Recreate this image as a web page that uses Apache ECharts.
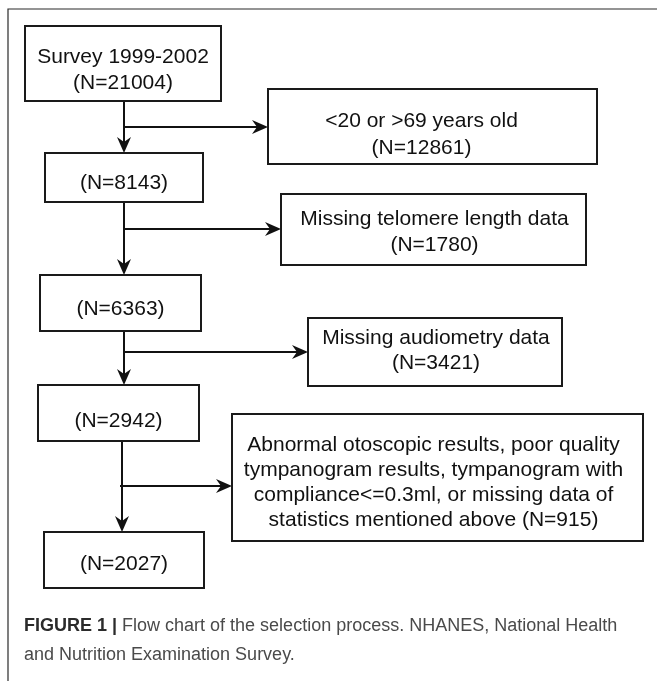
<!DOCTYPE html>
<html>
<head>
<meta charset="utf-8">
<script src="https://cdn.jsdelivr.net/npm/echarts@6/dist/echarts.min.js"></script>
<style>
  html, body { margin: 0; padding: 0; background: #fff; }
  #chart { width: 657px; height: 681px; }
</style>
</head>
<body>
<div id="chart"></div>
<script>
// flow chart contents
const mainTitles = ['Survey 1999-2002', '', '', '', '']
const mainCounts = [21004, 8143, 6363, 2942, 2027]
const exclusionReasons = [
  '<20 or >69 years old',
  'Missing telomere length data',
  'Missing audiometry data',
  'Abnormal otoscopic results, poor quality\ntympanogram results, tympanogram with\ncompliance<=0.3ml, or missing data of\nstatistics mentioned above'
]
const exclusionCounts = [12861, 1780, 3421, 915]
const captionBold = 'FIGURE 1 |'
const captionLines = [' Flow chart of the selection process. NHANES, National Health', 'and Nutrition Examination Survey.']

// layout (pixel units of the page, y going down)
const mainBoxes = [[25, 26, 221, 101], [45, 153, 203, 202], [40, 275, 201, 331], [38, 385, 199, 441], [44, 532, 204, 588]]
const mainTextShift = [[0, 6.5], [0, 5.5], [0, 6], [0, 8], [0, 4.5]]
const exclBoxes = [[268, 89, 597, 164], [281, 194, 586, 265], [308, 318, 562, 386], [232, 414, 643, 541]]
const exclTextShift = [[-11, 8], [1, 2.5], [1, -1], [-4, 5]]
const exclLineHeight = [27, 26, 25, 25]
const trunkX = [124, 124, 124, 122]
const branchY = [127, 229, 352, 486]
const branchStartX = [124, 124, 123, 120]

const W = 657
const H = 681
const font = '"Liberation Sans", Arial, sans-serif'

const nLabel = n => '(N=' + n + ')'

let boxData = []
mainBoxes.forEach((b, i) => {
  let txt = mainTitles[i] ? mainTitles[i] + '\n' + nLabel(mainCounts[i]) : nLabel(mainCounts[i])
  boxData.push({ value: b, text: txt, dx: mainTextShift[i][0], dy: mainTextShift[i][1], lh: 26 })
})
exclBoxes.forEach((b, i) => {
  let reason = exclusionReasons[i]
  // multi-line reasons keep the count on the last line
  let txt = reason.indexOf('\n') >= 0 ? reason + ' ' + nLabel(exclusionCounts[i]) : reason + '\n' + nLabel(exclusionCounts[i])
  boxData.push({ value: b, text: txt, dx: exclTextShift[i][0], dy: exclTextShift[i][1], lh: exclLineHeight[i] })
})

let arrowData = []
for (let i = 0; i < mainBoxes.length - 1; i++) {
  arrowData.push([trunkX[i], mainBoxes[i][3], trunkX[i], mainBoxes[i + 1][1]])
  arrowData.push([branchStartX[i], branchY[i], exclBoxes[i][0], branchY[i]])
}

const renderBox = (params, api) => {
  const p0 = api.coord([api.value(0), api.value(1)])
  const p1 = api.coord([api.value(2), api.value(3)])
  const item = boxData[params.dataIndex]
  return {
    type: 'group',
    children: [
      {
        type: 'rect',
        shape: { x: p0[0], y: p0[1], width: p1[0] - p0[0], height: p1[1] - p0[1] },
        style: { fill: '#fff', stroke: '#1a1a1a', lineWidth: 2 }
      },
      {
        type: 'text',
        x: (p0[0] + p1[0]) / 2 + item.dx,
        y: (p0[1] + p1[1]) / 2 + item.dy,
        style: {
          text: item.text,
          fontSize: 21,
          fontFamily: font,
          lineHeight: item.lh,
          fill: '#111',
          align: 'center',
          verticalAlign: 'middle'
        }
      }
    ]
  }
}

const renderArrow = (params, api) => {
  const a = api.coord([api.value(0), api.value(1)])
  const b = api.coord([api.value(2), api.value(3)])
  let dx = b[0] - a[0]
  let dy = b[1] - a[1]
  let len = Math.sqrt(dx * dx + dy * dy)
  dx /= len
  dy /= len
  const L = 16, hw = 7, notch = 11
  const back = [b[0] - dx * L, b[1] - dy * L]
  const nt = [b[0] - dx * notch, b[1] - dy * notch]
  return {
    type: 'group',
    children: [
      {
        type: 'line',
        shape: { x1: a[0], y1: a[1], x2: nt[0], y2: nt[1] },
        style: { stroke: '#111', lineWidth: 2 }
      },
      {
        type: 'polygon',
        shape: { points: [b, [back[0] - dy * hw, back[1] + dx * hw], nt, [back[0] + dy * hw, back[1] - dx * hw]] },
        style: { fill: '#111' }
      }
    ]
  }
}

const myChart = echarts.init(document.getElementById('chart'))
let option = {
  animation: false,
  grid: { left: 0, right: 0, top: 0, bottom: 0 },
  xAxis: { type: 'value', min: 0, max: W, show: false },
  yAxis: { type: 'value', min: 0, max: H, inverse: true, show: false },
  graphic: [
    {
      type: 'polyline',
      shape: { points: [[8, H], [8, 9], [W, 9]] },
      style: { stroke: '#2a2a2a', lineWidth: 1.2, fill: null }
    },
    {
      type: 'text',
      left: 24,
      top: 617,
      style: {
        text: '{b|' + captionBold + '}{t|' + captionLines[0] + '}\n{t|' + captionLines[1] + '}',
        rich: {
          b: { fontSize: 18, fontWeight: 'bold', fill: '#2b2b2b', fontFamily: font, lineHeight: 29 },
          t: { fontSize: 18, fill: '#4a4a4a', fontFamily: font, lineHeight: 29 }
        }
      }
    }
  ],
  series: [
    {
      type: 'custom',
      name: 'connectors',
      renderItem: renderArrow,
      encode: { x: [0, 2], y: [1, 3] },
      data: arrowData,
      silent: true
    },
    {
      type: 'custom',
      name: 'boxes',
      renderItem: renderBox,
      encode: { x: [0, 2], y: [1, 3] },
      data: boxData.map(d => d.value),
      silent: true
    }
  ]
}
myChart.setOption(option)
</script>
</body>
</html>
